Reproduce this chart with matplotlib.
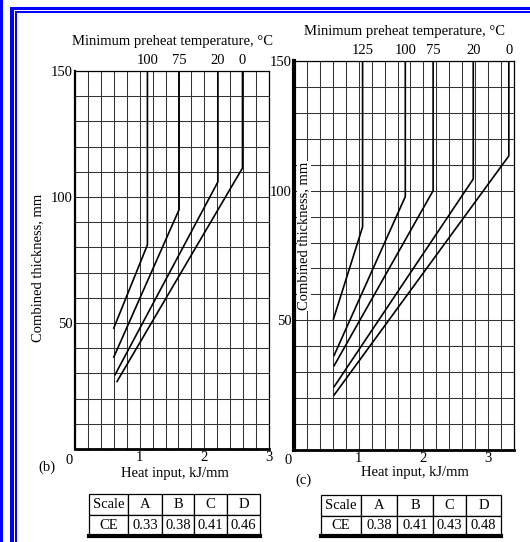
import matplotlib
matplotlib.use("Agg")
from matplotlib import pyplot as plt
from matplotlib.patches import Rectangle
import numpy as np

plt.rcParams["font.family"] = ["Liberation Serif", "DejaVu Serif"]
FS = 10.5
W, H = 530, 542

# panel (b): each curve rises from (start) to (knee), then goes straight up
temps_b = [100, 75, 20, 0]
start_x_b = [0.60, 0.60, 0.62, 0.65]
start_y_b = [48, 36.5, 29.5, 26.8]
knee_x_b = [1.12, 1.61, 2.21, 2.59]
knee_y_b = [81, 95, 106, 111.5]
ce_b = ["0.33", "0.38", "0.41", "0.46"]

# panel (c)
temps_c = [125, 100, 75, 20, 0]
start_x_c = [0.61, 0.62, 0.62, 0.62, 0.62]
start_y_c = [50.5, 36.5, 32.5, 24.4, 21.2]
knee_x_c = [1.06, 1.72, 2.15, 2.77, 3.32]
knee_y_c = [86, 97.7, 100, 104.5, 113.4]
ce_c = ["0.38", "0.41", "0.43", "0.48"]

scales = ["A", "B", "C", "D"]
x_ticks = [1, 2, 3]
y_ticks = [50, 100, 150]
y_max = 150


def px(l, t, r, b):
    return [l / W, 1 - b / H, (r - l) / W, (b - t) / H]


fig = plt.figure(figsize=(W / 100, H / 100), dpi=100)


def panel(box, xmax, sx, sy, kx, ky, temps, left_lw, tag, tag_off):
    ax = fig.add_axes(px(*box))
    ax.set_xlim(0, xmax)
    ax.set_ylim(0, y_max)
    ax.set_xticks(x_ticks)
    ax.set_yticks(y_ticks)
    ax.set_xticks(np.arange(0, xmax + 0.01, 0.2), minor=True)
    ax.set_yticks(np.arange(0, y_max + 1, 10), minor=True)
    ax.grid(which="both", color="#333333", lw=0.75)
    ax.tick_params(which="both", length=0, labelsize=FS)
    ax.tick_params(axis="x", pad=1.5)
    ax.tick_params(axis="y", pad=2)
    for s in ["top", "right"]:
        ax.spines[s].set_linewidth(0.9)
    ax.spines["left"].set_linewidth(left_lw)
    ax.spines["bottom"].set_linewidth(2)
    for i in range(len(temps)):
        ax.plot([sx[i], kx[i], kx[i]], [sy[i], ky[i], y_max],
                color="black", lw=1.2, solid_joinstyle="miter")
    top = ax.twiny()
    top.set_xlim(ax.get_xlim())
    top.set_xticks(kx)
    top.set_xticklabels([str(t) for t in temps])
    top.tick_params(length=0, labelsize=FS, pad=3)
    top.set_frame_on(False)
    top.set_xlabel("Minimum preheat temperature, °C", fontsize=FS, labelpad=6)
    ax.set_xlabel("Heat input, kJ/mm", fontsize=FS)
    ax.annotate("0", xy=(0, 0), xytext=(-6, -11), textcoords="offset pixels",
                ha="center", va="center", fontsize=FS)
    ax.annotate(tag, xy=(0, 0), xytext=tag_off, textcoords="offset pixels",
                ha="center", va="center", fontsize=FS)
    return ax


ax_b = panel((75, 71, 269, 449), 3.0, start_x_b, start_y_b, knee_x_b, knee_y_b,
             temps_b, 1.6, "(b)", (-28, -18))
ax_b.set_ylabel("Combined thickness, mm", fontsize=FS)
ax_b.yaxis.set_label_coords(-0.16, 0.48)
ax_b.xaxis.set_label_coords(0.515, -0.047)

ax_c = panel((294, 61, 514, 450), 3.4, start_x_c, start_y_c, knee_x_c, knee_y_c,
             temps_c, 3, "(c)", (9, -30))
ax_c.text(0.045, 0.55, "Combined thickness, mm", rotation=90, ha="center",
          va="center", fontsize=FS, transform=ax_c.transAxes,
          bbox=dict(facecolor="white", edgecolor="none", pad=0.5))
ax_c.xaxis.set_label_coords(0.55, -0.042)


def ce_table(box, widths, ce):
    tax = fig.add_axes(px(*box))
    tax.axis("off")
    cells = [["Scale"] + scales, ["CE"] + ce]
    tbl = tax.table(cellText=cells, cellLoc="center", bbox=[0, 0, 1, 1],
                    colWidths=widths)
    tbl.auto_set_font_size(False)
    tbl.set_fontsize(FS)
    for c in tbl.get_celld().values():
        c.set_linewidth(0.9)
    tax.plot([0, 1], [0, 0], color="black", lw=3, transform=tax.transAxes,
             clip_on=False)


ce_table((89, 494, 260, 536), [39, 34, 32, 33, 33], ce_b)
ce_table((321, 495, 501, 536), [40, 36, 36, 33, 35], ce_c)

# blue frame of the scanned page
for x0, y0, x1, y1 in [(0, 0, 3, 542), (10, 7, 14, 542), (10, 7, 530, 10),
                       (15, 11, 17, 542), (15, 11, 530, 13)]:
    fig.add_artist(Rectangle((x0 / W, 1 - y1 / H), (x1 - x0) / W, (y1 - y0) / H,
                             transform=fig.transFigure, color="#0000ff", lw=0))

fig.savefig("out.png", dpi=100)
